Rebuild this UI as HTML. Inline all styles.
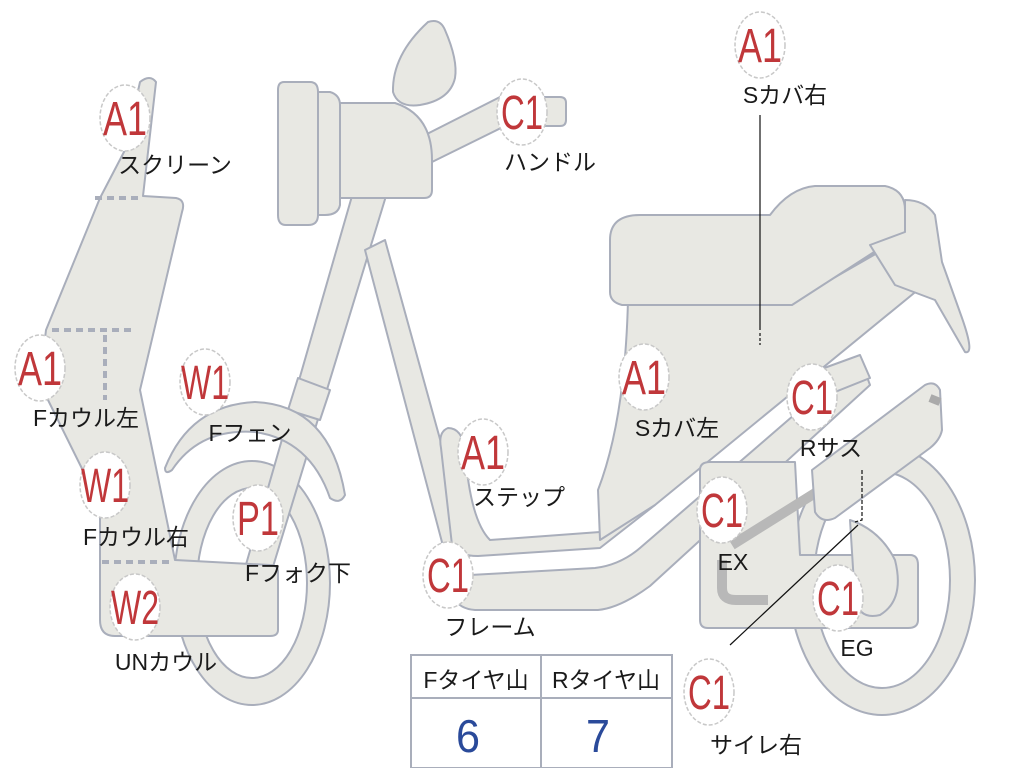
<!DOCTYPE html>
<html><head><meta charset="utf-8"><style>
html,body{margin:0;padding:0;background:#fff}
svg{display:block}
.s{fill:#e8e8e3;stroke:#a9aebb;stroke-width:2;stroke-linejoin:round}
.b{fill:#fff;stroke:#c8c8c8;stroke-width:1.5;stroke-dasharray:4 2}
.bt{font-family:"Liberation Sans","Noto Sans CJK JP",sans-serif;font-size:48px;fill:#c0373a;text-anchor:middle}
.lt{font-family:"Liberation Sans","Noto Sans CJK JP",sans-serif;font-size:23px;fill:#1a1a1a;text-anchor:middle}
</style></head><body>
<svg width="1024" height="768" viewBox="0 0 1024 768" xmlns="http://www.w3.org/2000/svg">
<path class="s" fill-rule="evenodd" d="M252,461 A78,122 0 1,1 252,705 A78,122 0 1,1 252,461 Z M252,488 A55,95 0 1,0 252,678 A55,95 0 1,0 252,488 Z"/>
<path class="s" fill-rule="evenodd" d="M882,445 A93,135 0 1,1 882,715 A93,135 0 1,1 882,445 Z M882,472 A68,108 0 1,0 882,688 A68,108 0 1,0 882,472 Z"/>
<path class="s" d="M352,196 L386,196 L272,570 L245,568 Z"/>
<path class="s" d="M298,378 L330,390 L320,420 L288,410 Z"/>
<path class="s" d="M165,468 Q190,405 255,402 Q330,405 345,495 Q340,505 330,498 Q310,440 255,432 Q200,428 172,470 Q165,475 165,468 Z"/>
<path class="s" d="M365,250 L385,240 L472,555 L448,565 Z"/>
<path class="s" d="M628,298 L790,303 L900,238 L940,268 L600,532 L490,540 Q470,520 465,450 Q462,428 448,428 Q438,432 441,448 L452,545 Q458,556 478,556 L600,548 L655,505 L628,298 Z"/>
<path class="s" d="M628,300 Q625,420 598,490 L600,540 L655,505 L930,280 L900,240 L790,303 Z"/>
<path class="s" d="M610,240 Q610,215 640,215 L770,215 Q790,188 815,186 L885,186 Q905,190 905,210 L905,232 L792,305 L622,305 Q610,302 610,292 Z"/>
<path class="s" d="M905,200 Q925,200 935,215 L942,262 L962,318 Q975,355 965,352 L935,300 L895,285 L870,245 L905,232 Z"/>
<path class="s" d="M448,565 Q445,608 475,610 L598,610 Q620,608 650,586 L870,385 L860,358 L640,548 Q620,565 595,568 L470,575 Z"/>
<path class="s" d="M805,375 L860,355 L870,378 L815,400 Z"/>
<path class="s" d="M700,470 Q700,462 710,462 L795,462 L800,555 L910,555 Q918,555 918,565 L918,620 Q918,628 908,628 L708,628 Q700,628 700,620 Z"/>
<path class="s" d="M850,520 Q880,530 895,560 Q905,600 880,615 Q860,620 855,600 Z"/>
<path d="M722,560 L722,588 Q722,600 736,600 L768,600" fill="none" stroke="#b8b8b8" stroke-width="10"/>
<path d="M732,545 L820,490" fill="none" stroke="#b8b8b8" stroke-width="10"/>
<path class="s" d="M812,470 L925,385 Q935,380 940,390 L942,430 Q940,440 930,448 L835,518 Q822,524 815,512 Z"/>
<path d="M930,398 L940,402" stroke="#aaa" stroke-width="8"/>
<path class="s" d="M100,198 L125,150 L140,82 Q150,74 156,82 L143,196 L176,198 Q186,200 182,212 L140,390 L175,560 L270,565 Q278,565 278,572 L278,630 Q278,636 270,636 L115,636 Q100,636 100,620 L100,505 L48,400 Q42,360 46,330 Z"/>
<g stroke="#a9aebb" stroke-width="4" stroke-dasharray="7 5" fill="none">
<path d="M95,198 L140,198"/><path d="M52,330 L135,330"/><path d="M105,335 L105,400"/><path d="M102,562 L172,562"/>
</g>
<path class="s" d="M425,135 L500,97 L560,97 Q566,97 566,103 L566,120 Q566,126 560,126 L505,126 L432,162 Z"/>
<path class="s" d="M338,103 L395,103 Q432,115 432,160 L432,190 Q432,198 424,198 L338,198 Z"/>
<path class="s" d="M316,92 L330,92 Q340,95 340,105 L340,205 Q338,215 325,215 L316,215 Z"/>
<path class="s" d="M284,82 L310,82 Q318,82 318,92 L318,215 Q318,225 308,225 L286,225 Q278,225 278,215 L278,90 Q278,82 284,82 Z"/>
<path class="s" d="M428,22 Q440,18 445,30 Q458,60 455,78 Q450,100 420,105 Q398,108 393,92 Q392,55 428,22 Z"/>
<g stroke="#111" stroke-width="1.2" fill="none">
<path d="M760,115 L760,330"/><path d="M760,333 L760,345" stroke-dasharray="3 2"/>
<path d="M862,470 L862,520 L855,522" stroke-dasharray="4 2"/>
<path d="M858,525 L730,645"/>
</g>
<g>
<ellipse class="b" cx="125" cy="118" rx="25" ry="33"/><text class="bt" x="125" y="135" textLength="44" lengthAdjust="spacingAndGlyphs">A1</text>
<ellipse class="b" cx="760" cy="45" rx="25" ry="33"/><text class="bt" x="760" y="62" textLength="44" lengthAdjust="spacingAndGlyphs">A1</text>
<ellipse class="b" cx="522" cy="112" rx="25" ry="33"/><text class="bt" x="522" y="129" textLength="42" lengthAdjust="spacingAndGlyphs">C1</text>
<ellipse class="b" cx="40" cy="368" rx="25" ry="33"/><text class="bt" x="40" y="385" textLength="44" lengthAdjust="spacingAndGlyphs">A1</text>
<ellipse class="b" cx="205" cy="382" rx="25" ry="33"/><text class="bt" x="205" y="399" textLength="48" lengthAdjust="spacingAndGlyphs">W1</text>
<ellipse class="b" cx="644" cy="377" rx="25" ry="33"/><text class="bt" x="644" y="394" textLength="44" lengthAdjust="spacingAndGlyphs">A1</text>
<ellipse class="b" cx="812" cy="397" rx="25" ry="33"/><text class="bt" x="812" y="414" textLength="42" lengthAdjust="spacingAndGlyphs">C1</text>
<ellipse class="b" cx="483" cy="452" rx="25" ry="33"/><text class="bt" x="483" y="469" textLength="44" lengthAdjust="spacingAndGlyphs">A1</text>
<ellipse class="b" cx="105" cy="485" rx="25" ry="33"/><text class="bt" x="105" y="502" textLength="48" lengthAdjust="spacingAndGlyphs">W1</text>
<ellipse class="b" cx="258" cy="518" rx="25" ry="33"/><text class="bt" x="258" y="535" textLength="42" lengthAdjust="spacingAndGlyphs">P1</text>
<ellipse class="b" cx="722" cy="510" rx="25" ry="33"/><text class="bt" x="722" y="527" textLength="42" lengthAdjust="spacingAndGlyphs">C1</text>
<ellipse class="b" cx="448" cy="575" rx="25" ry="33"/><text class="bt" x="448" y="592" textLength="42" lengthAdjust="spacingAndGlyphs">C1</text>
<ellipse class="b" cx="838" cy="598" rx="25" ry="33"/><text class="bt" x="838" y="615" textLength="42" lengthAdjust="spacingAndGlyphs">C1</text>
<ellipse class="b" cx="135" cy="607" rx="25" ry="33"/><text class="bt" x="135" y="624" textLength="48" lengthAdjust="spacingAndGlyphs">W2</text>
<ellipse class="b" cx="709" cy="692" rx="25" ry="33"/><text class="bt" x="709" y="709" textLength="42" lengthAdjust="spacingAndGlyphs">C1</text>
</g>
<g>
<text class="lt" x="175" y="173">スクリーン</text>
<text class="lt" x="785" y="103">Sカバ右</text>
<text class="lt" x="550" y="170">ハンドル</text>
<text class="lt" x="86" y="426">Fカウル左</text>
<text class="lt" x="250" y="441">Fフェン</text>
<text class="lt" x="677" y="436">Sカバ左</text>
<text class="lt" x="831" y="456">Rサス</text>
<text class="lt" x="519" y="505">ステップ</text>
<text class="lt" x="136" y="545">Fカウル右</text>
<text class="lt" x="298" y="581">Fフォク下</text>
<text class="lt" x="733" y="570">EX</text>
<text class="lt" x="490" y="635">フレーム</text>
<text class="lt" x="857" y="656">EG</text>
<text class="lt" x="166" y="670">UNカウル</text>
<text class="lt" x="756" y="753">サイレ右</text>
</g>
<rect x="411" y="655" width="261" height="113" fill="#fff" stroke="#a9aebb" stroke-width="2"/>
<line x1="411" y1="698" x2="672" y2="698" stroke="#a9aebb" stroke-width="2"/>
<line x1="541" y1="655" x2="541" y2="768" stroke="#a9aebb" stroke-width="2"/>
<text class="lt" x="476" y="688">Fタイヤ山</text>
<text class="lt" x="606" y="688">Rタイヤ山</text>
<text x="468" y="752" font-family="Liberation Sans,sans-serif" font-size="46" fill="#2a4a9a" text-anchor="middle" textLength="24" lengthAdjust="spacingAndGlyphs">6</text>
<text x="598" y="752" font-family="Liberation Sans,sans-serif" font-size="46" fill="#2a4a9a" text-anchor="middle" textLength="24" lengthAdjust="spacingAndGlyphs">7</text>
</svg>
</body></html>
